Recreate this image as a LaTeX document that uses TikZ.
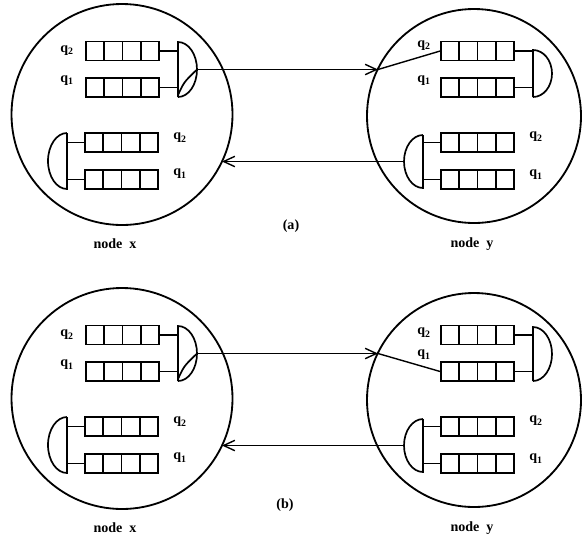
\documentclass[tikz,border=0pt]{standalone}
\usepackage{fontspec}
\setmainfont{Liberation Serif}
\usetikzlibrary{arrows.meta,calc}
\tikzset{
  site/.style={line width=1.3pt},
  queue/.style={draw,line width=1.2pt,minimum width=18.25mm,minimum height=4.75mm,
    inner sep=0pt,path picture={
      \foreach \c in {0.25,0.5,0.75}
        \draw[line width=1.1pt]
          ($(path picture bounding box.south west)!\c!(path picture bounding box.south east)$)
          -- ($(path picture bounding box.north west)!\c!(path picture bounding box.north east)$);}},
  server/.style={line width=1.2pt},
  link/.style={line width=1pt},
  lbl/.style={font=\bfseries,inner sep=0pt}
}

\begin{document}
\begin{tikzpicture}[x=0.25mm,y=-0.25mm,>={Straight Barb[length=2.8mm,width=2.6mm]}]
  \useasboundingbox (0,0) rectangle (582,542);
  \foreach \dy/\p/\lx/\ly/\tgt/\st/\qa/\qb in {0/a/291/226/2/50/46/81,284/b/285/221/1/43/49/71}{
  \begin{scope}[shift={(0,\dy)}]
    % node x
    \draw[site] (122,114.5) circle[radius=110.5];
    \node[queue] (xq2\p) at (122.5,51) {};
    \node[queue] (xq1\p) at (122.5,87.5) {};
    \node[queue] (xr2\p) at (121.5,142.5) {};
    \node[queue] (xr1\p) at (121.5,179.5) {};
    \draw[server] (178,97) -- (178,42) arc[start angle=-90,end angle=90,x radius=19,y radius=27.5];
    \draw[server] (178,95) .. controls (184,82) .. (197,69.5);
    \draw[server] (67,133) -- (67,189) arc[start angle=90,end angle=270,x radius=19,y radius=28];
    \coordinate (xs\p) at (178,69.5);
    \coordinate (xt\p) at (67,161);
    \coordinate (xout\p) at (197,69.5);
    \coordinate (xin\p) at (222,161.5);
    \draw[link] (xq2\p.east) -- (xq2\p.east -| xs\p);
    \draw[link] (xq1\p.east) -- (xq1\p.east -| xs\p);
    \draw[link] (xr2\p.west) -- (xr2\p.west -| xt\p);
    \draw[link] (xr1\p.west) -- (xr1\p.west -| xt\p);
    \node[lbl] at (67,51) {q\textsubscript{2}};
    \node[lbl] at (67,81) {q\textsubscript{1}};
    \node[lbl] at (180,138) {q\textsubscript{2}};
    \node[lbl] at (180,174) {q\textsubscript{1}};
    \node[lbl] (xname\p) at (115,244) {node~~x};

    % node y
    \draw[site] (474,116) circle[radius=107];
    \node[queue] (yq2\p) at (477.5,51) {};
    \node[queue] (yq1\p) at (477.5,87.5) {};
    \node[queue] (yr2\p) at (477.5,142.5) {};
    \node[queue] (yr1\p) at (477.5,179.5) {};
    \pgfmathsetmacro{\ry}{(97-\st)/2}
    \draw[server] (533,97) -- (533,\st) arc[start angle=-90,end angle=90,x radius=19,y radius=\ry];
    \draw[server] (423,135) -- (423,188) arc[start angle=90,end angle=270,x radius=19,y radius=26.5];
    \coordinate (ys\p) at (533,70);
    \coordinate (yt\p) at (423,161.5);
    \coordinate (yin\p) at (378,69.5);
    \coordinate (yout\p) at (404,161.5);
    \draw[link] (yq2\p.east) -- (yq2\p.east -| ys\p);
    \draw[link] (yq1\p.east) -- (yq1\p.east -| ys\p);
    \draw[link] (yr2\p.west) -- (yr2\p.west -| yt\p);
    \draw[link] (yr1\p.west) -- (yr1\p.west -| yt\p);
    \node[lbl] at (424,\qa) {q\textsubscript{2}};
    \node[lbl] at (424,\qb) {q\textsubscript{1}};
    \node[lbl] at (536,137) {q\textsubscript{2}};
    \node[lbl] at (536,175) {q\textsubscript{1}};
    \node[lbl] (yname\p) at (472,244) {node~~y};

    % links between the two nodes
    \draw[link,->] (xout\p) -- (yin\p);
    \draw[link] (yin\p) -- (yq\tgt\p.west);
    \draw[link,->] (yout\p) -- (xin\p);
    \node[lbl] (cap\p) at (\lx,\ly) {(\p)};
  \end{scope}}
\end{tikzpicture}
\end{document}
